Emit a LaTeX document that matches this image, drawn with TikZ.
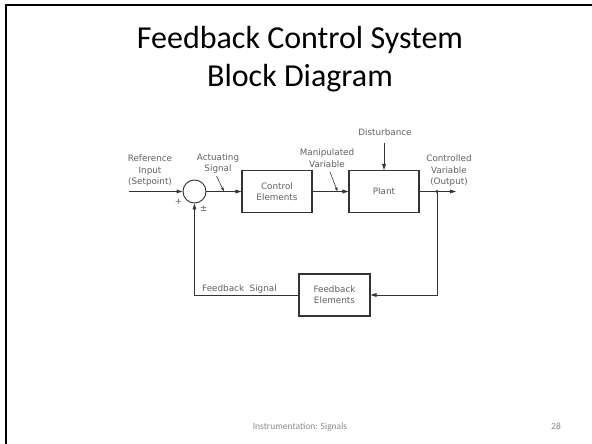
\documentclass[tikz,border=0pt]{standalone}
\usepackage{fontspec}
\setmainfont{Carlito}
\newfontfamily\draftfont{DejaVu Sans}
\usetikzlibrary{arrows.meta}
\definecolor{inkline}{gray}{0.2}
\definecolor{inktext}{gray}{0.38}
\definecolor{foot}{gray}{0.55}
\tikzset{
  wire/.style={draw=inkline, line width=0.9pt},
  flow/.style={wire, -{Triangle[length=6pt,width=3.6pt]}},
  leader/.style={draw=inkline, line width=0.6pt, -{Triangle[length=4pt,width=2.4pt]}},
  block/.style={draw=inkline, line width=1.1pt, rectangle, minimum width=70pt,
    minimum height=42pt, inner sep=0pt, align=center, text=inktext,
    font=\draftfont\fontsize{8.8}{11}\selectfont},
  summer/.style={draw=inkline, line width=0.9pt, circle, minimum size=23pt, inner sep=0pt},
  lbl/.style={text=inktext, align=center, inner sep=0pt,
    font=\draftfont\fontsize{8.8}{11.5}\selectfont},
  titletext/.style={font=\fontsize{32}{38}\selectfont, inner sep=0pt, anchor=base},
  foottext/.style={font=\fontsize{9.5}{11}\selectfont, text=foot, inner sep=0pt, anchor=base},
}
\begin{document}
\begin{tikzpicture}[x=1pt,y=-1pt]
\useasboundingbox (0,0) rectangle (592,444);
\fill[white] (0,0) rectangle (592,444);
% slide frame (top and left edges)
\draw[black, line width=2pt] (6,444) -- (6,5) -- (592,5);

% title and footer
\node[titletext] (title1) at (300,49) {Feedback Control System};
\node[titletext] (title2) at (300,87) {Block Diagram};
\node[foottext] (footer) at (300,429) {Instrumentation: Signals};
\node[foottext] (page) at (556,429) {28};

% blocks
\node[summer] (sum) at (194.5,191.5) {};
\node[block] (ctrl) at (277,191.5) {Control\\Elements};
\node[block] (plant) at (384,191.5) {Plant};
\node[block, minimum width=71pt] (fb) at (334.5,295) {Feedback\\Elements};

% free ends and corners
\coordinate (in) at (129,191.5);
\coordinate (out) at (456,191.5);
\coordinate (tap) at (437,191.5);
\coordinate (dist) at (384,143);
\coordinate (fbR) at (437,295);
\coordinate (fbL) at (194.5,295);

% forward path
\draw[flow] (in) -- (sum.west);
\draw[flow] (sum.east) -- (ctrl.west);
\draw[flow] (ctrl.east) -- (plant.west);
\draw[flow] (plant.east) -- (out);
\draw[flow] (dist) -- (plant.north);
\fill[inkline] (tap) circle (1.6pt);

% feedback path
\draw[flow] (tap) -- (fbR) -- (fb.east);
\draw[flow] (fb.west) -- (fbL) -- (sum.south);

% labels
\node[lbl] (refl) at (150,171) {Reference\\Input\\(Setpoint)};
\node[lbl] (actl) at (218,163.5) {Actuating\\Signal};
\node[lbl] (manl) at (327,158) {Manipulated\\Variable};
\node[lbl] (distl) at (385,132.5) {Disturbance};
\node[lbl] (outl) at (449,171) {Controlled\\Variable\\(Output)};
\node[lbl, anchor=west] (fbsl) at (202,289) {Feedback\ \ Signal};
\node[lbl] (plus) at (178.5,201.5) {+};
\node[lbl] (pm) at (203.5,209) {±};

% label leaders
\coordinate (actA) at (216.5,176);
\coordinate (actB) at (224,191.5);
\coordinate (manA) at (330,172);
\coordinate (manB) at (337.5,191.5);
\draw[leader] (actA) -- (actB);
\draw[leader] (manA) -- (manB);
\end{tikzpicture}
\end{document}
